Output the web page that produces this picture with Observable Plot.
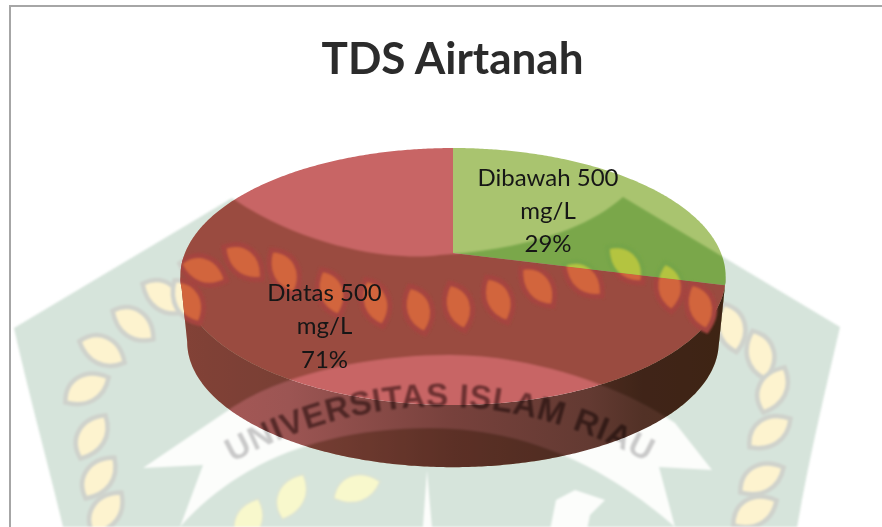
<!DOCTYPE html>
<html>
<head>
<meta charset="utf-8">
<script src="https://cdn.jsdelivr.net/npm/d3@7"></script>
<script src="https://cdn.jsdelivr.net/npm/@observablehq/plot@0.6"></script>
<style>
html,body{margin:0;padding:0;background:#fff;}
#page{position:relative;width:882px;height:527px;overflow:hidden;background:#fff;}
#page svg{position:absolute;left:0;top:0;}
#bg{filter:blur(0.8px);}
#frame{position:absolute;left:9px;top:5px;width:900px;height:600px;border:2px solid #a6a6a6;box-sizing:border-box;}
#title{position:absolute;left:0;top:27px;width:905px;margin:0;text-align:center;font:700 44px/60px Lato,sans-serif;color:#2b2b2b;}
</style>
</head>
<body>
<div id="page">
  <svg id="bg" width="882" height="527"></svg>
  <div id="frame"></div>
  <h1 id="title">TDS Airtanah</h1>
</div>
<script>
const labels = ["Dibawah 500 mg/L", "Diatas 500 mg/L"];
const values = [29, 71];
const percents = ["29%", "71%"];
const sliceColors = ["#a9c46f", "#c86565"];

// 3D view: a tilted disc seen in perspective
const tilt = 0.183, depth = 0.531, shrink = 0.975;
const project = (t, r = 1) => {
  const u = r * Math.sin(t), v = -r * Math.cos(t), d = 1 - tilt * v;
  return {px: u / d, py: v / d};
};
const samples = (a0, a1) => [...d3.range(a0, a1, 0.01), a1];
const slices = d3.pie().sort(null)(values);
const sideStart = Math.acos(-tilt), sideEnd = 2 * Math.PI - sideStart;

const topMarks = slices.map((s, i) =>
  Plot.area(samples(s.startAngle, s.endAngle).map((t) => project(t)), {
    x1: () => 0, y1: () => 0, x2: "px", y2: "py", fill: sliceColors[i], curve: "linear"
  }));

const sideMarks = slices.map((s, i) => {
  const a0 = Math.max(s.startAngle, sideStart), a1 = Math.min(s.endAngle, sideEnd);
  const pts = samples(a0, a1).map((t) => {
    const p = project(t);
    return {...p, bx: p.px * shrink, by: p.py * shrink + depth};
  });
  return Plot.area(pts, {
    x1: "px", y1: "py", x2: "bx", y2: "by",
    fill: i === 0 ? "#5a6a2c" : "url(#sideGrad)",
    curve: "linear"
  });
});

const labelRadius = [0.47, 0.65];
const labelMarks = slices.map((s, i) => {
  const p = project((s.startAngle + s.endAngle) / 2, labelRadius[i]);
  const [first, ...rest] = labels[i].split(" ");
  return Plot.text([p], {
    x: "px", y: "py",
    text: () => `${first} ${rest[0]}\n${rest[1]}\n${percents[i]}`,
    lineHeight: 1.38, fontSize: 24, fontFamily: "Lato", fill: "#161616",
    dx: i === 0 ? 0 : 19.5, dy: i === 0 ? -11 : 17
  });
});

const gradient = () => {
  const defs = d3.create("svg:defs");
  const g = defs.append("linearGradient").attr("id", "sideGrad").attr("x1", 0).attr("x2", 1).attr("y1", 0).attr("y2", 0);
  [[0, "#a95957"], [0.2, "#9c5553"], [0.5, "#77413c"], [0.75, "#633a32"], [0.85, "#523126"], [1, "#50301f"]].forEach(([o, c]) =>
    g.append("stop").attr("offset", o).attr("stop-color", c));
  return defs.node();
};

const chart = Plot.plot({
  width: 882, height: 527,
  margin: 0,
  style: {background: "transparent"},
  x: {domain: [-1, 1], range: [185, 721], axis: null},
  y: {domain: [-1, 1], range: [128.8, 377.2], axis: null},
  marks: [gradient, ...sideMarks, ...topMarks, ...labelMarks]
});
document.getElementById("page").appendChild(chart);

// --- University watermark printed across the page (decoration, not chart data) ---
const shieldPath = "M14,328 L232,198 C300,245 390,262 440,255 C510,250 580,235 623,197 L840,327 C828,380 808,460 795,540 L66,540 C50,470 30,400 14,328 Z";
const ribbonPath = "M143,468 L233,407 C290,370 380,355 450,355 C530,355 620,385 675,423 L712,470 L659,467 L675,527 C610,470 530,428 430,428 C310,428 230,470 180,527 L203,465 Z";
const outerLeaves = [[163,298,35],[133,325,35],[102,352,25],[87,390,-30],[93,437,-60],[100,478,-55],[107,513,-55],
  [730,328,75],[759,355,75],[774,390,-65],[770,433,-35],[762,480,-30],[755,513,-30]];
const lowerLeaves = [[293,497,-65],[357,490,-20],[250,522,-70]];
const pieLeaves = [[187,302,60],[203,272,20],[243,263,40],[283,272,62],[330,293,70],[374,303,70],[417,310,72],[457,307,72],[497,300,65],[537,287,50],[583,280,40],[625,265,45],[668,287,82],[699,307,72]];
const leafPath = "M-25,0 C-14,-20 10,-21 25,0 C10,17 -10,15 -25,0 Z";

function addLeaves(sel, leaves, fill, stroke, sw) {
  sel.selectAll(null).data(leaves).join("path")
    .attr("d", leafPath)
    .attr("transform", (d) => `translate(${d[0]},${d[1]}) rotate(${d[2]})`)
    .attr("fill", fill).attr("stroke", stroke).attr("stroke-width", sw);
}

const archPath = "M205,478 Q440,335 675,478";
const wordmark = (sel, id, fill) => {
  sel.append("path").attr("id", id).attr("d", archPath).attr("fill", "none");
  sel.append("text").attr("font-family", "Liberation Sans").attr("font-weight", 700).attr("font-size", 33)
    .attr("letter-spacing", 0.6).attr("fill", fill)
    .append("textPath").attr("href", "#" + id).attr("startOffset", "50%").attr("text-anchor", "middle")
    .text("UNIVERSITAS ISLAM RIAU");
};

// pale layer on the white page
const bg = d3.select("#bg");
bg.append("path").attr("d", shieldPath).attr("fill", "#d6e4db");
bg.append("path").attr("d", ribbonPath).attr("fill", "#fcfdfb");
addLeaves(bg.append("g"), outerLeaves, "#fdf3cf", "#cfd2cc", 4.5);
addLeaves(bg.append("g"), pieLeaves, "#fdf3cf", "#cfd2cc", 4.5);
addLeaves(bg.append("g"), lowerLeaves, "#f8f8cc", "#dbe3d5", 2);
bg.append("path").attr("d", "M422,540 L427,470 L433,540 Z").attr("fill", "#fcfdfb");
bg.append("path").attr("d", "M548,540 L556,500 L575,490 L605,500 L590,515 L585,540 Z").attr("fill", "#fcfdfb");
wordmark(bg, "archBg", "#c9c9c9");

// stronger layer where it crosses the pie
const svg = d3.select(chart);
const areas = Array.from(chart.querySelectorAll('g[aria-label="area"] path'));
const defs = svg.append("defs");
defs.append("filter").attr("id", "soft").attr("x", "-5%").attr("y", "-5%").attr("width", "110%").attr("height", "110%")
  .append("feGaussianBlur").attr("stdDeviation", 1.1);
const addClip = (id, list) => {
  const c = defs.append("clipPath").attr("id", id);
  list.forEach((p) => c.append("path").attr("d", p.getAttribute("d")));
};
addClip("clipAll", areas);
addClip("clipGreen", [areas[2]]);
addClip("clipRed", [areas[3], areas[1]]);

const before = 'g[aria-label="text"]';
const tint = (clip, color) => {
  const g = svg.insert("g", before)
    .attr("clip-path", `url(#${clip})`).style("mix-blend-mode", "multiply")
    .append("g").attr("filter", "url(#soft)");
  g.append("path").attr("d", shieldPath).attr("fill", color);
  g.append("path").attr("d", ribbonPath).attr("fill", "#ffffff");
};
tint("clipRed", "#c5bca0");
tint("clipGreen", "#b8daaa");
const red = svg.insert("g", before).attr("clip-path", "url(#clipRed)").append("g").attr("filter", "url(#soft)");
addLeaves(red, pieLeaves, "#d2653c", "#a5443f", 5);
const green = svg.insert("g", before).attr("clip-path", "url(#clipGreen)").append("g").attr("filter", "url(#soft)");
addLeaves(green, pieLeaves, "#b4c440", "#76a548", 5);
const word = svg.insert("g", before)
  .attr("clip-path", "url(#clipAll)").style("mix-blend-mode", "multiply")
  .append("g").attr("filter", "url(#soft)");
wordmark(word, "archPie", "#8a7a7a");
</script>
</body>
</html>
